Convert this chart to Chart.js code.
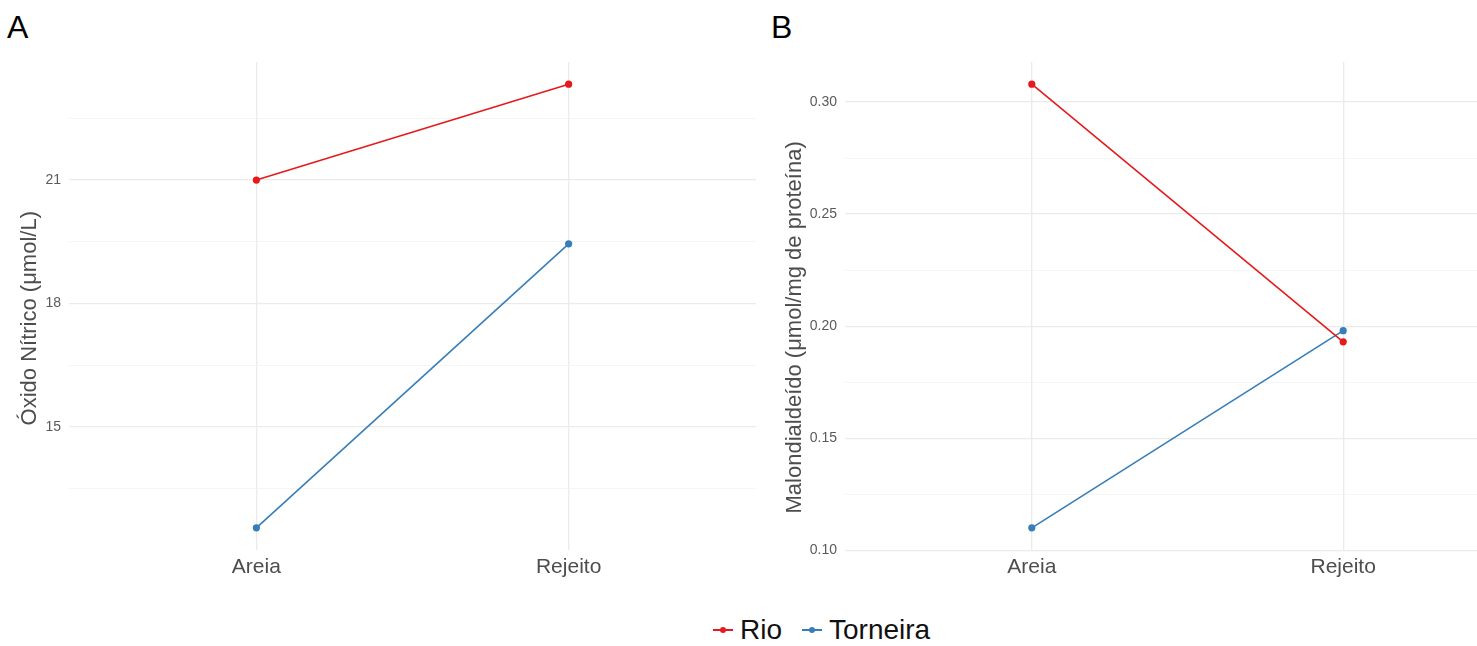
<!DOCTYPE html>
<html><head><meta charset="utf-8">
<script src="https://cdn.jsdelivr.net/npm/chart.js@4/dist/chart.umd.min.js"></script>
<style>
html,body{margin:0;padding:0;background:#fff;overflow:hidden;}
#wrap{position:relative;width:1477px;height:646px;overflow:hidden;font-family:"Liberation Sans",Arial,sans-serif;background:#fff;}
.panel{position:absolute;font-size:32px;line-height:32px;color:#000;}
#boxA{position:absolute;left:0;top:0;width:760px;height:600px;}
#boxB{position:absolute;left:760px;top:0;width:774px;height:600px;}
#legend{position:absolute;left:713px;top:616px;height:28px;display:flex;align-items:center;font-size:28px;line-height:28px;color:#111;white-space:nowrap;}
.item{display:flex;align-items:center;margin-right:20px;}
.key{position:relative;width:20px;height:28px;margin-right:7px;}
.key .ln{position:absolute;left:0;right:0;top:13px;height:2px;}
.key .dt{position:absolute;left:7px;top:11px;width:6px;height:6px;border-radius:50%;}
</style>
</head>
<body>
<div id="wrap">
  <div class="panel" style="left:7px;top:11px;">A</div>
  <div class="panel" style="left:771px;top:11px;">B</div>
  <div id="boxA"><canvas id="cA"></canvas></div>
  <div id="boxB"><canvas id="cB"></canvas></div>
  <div id="legend"></div>
</div>
<script>
// ---- data ----
const categories = ['Areia', 'Rejeito'];
const seriesNames = ['Rio', 'Torneira'];
const seriesColors = ['#E41A1C', '#377EB8'];

const rioA = [21.0, 23.33];
const torneiraA = [12.55, 19.45];
const rioB = [0.308, 0.193];
const torneiraB = [0.110, 0.198];

const yTicksA = [13.5, 15, 16.5, 18, 19.5, 21, 22.5];
const yLabelsA = ['', '15', '', '18', '', '21', ''];
const yTicksB = [0.10, 0.125, 0.15, 0.175, 0.20, 0.225, 0.25, 0.275, 0.30];
const yLabelsB = ['0.10', '', '0.15', '', '0.20', '', '0.25', '', '0.30'];

const titleA = 'Óxido Nítrico (μmol/L)';
const titleB = 'Malondialdeído (μmol/mg de proteína)';

// ---- helpers ----
const FONT = '"Liberation Sans", Arial, sans-serif';
function expandRange(arrs) {
  const all = [].concat(...arrs);
  const mn = Math.min(...all), mx = Math.max(...all), e = (mx - mn) * 0.05;
  return [mn - e, mx + e];
}
function toPts(vals) { return vals.map((v, i) => ({x: i, y: v})); }

function makeChart(id, rio, torn, ticks, labels, title, axisW, titlePad, titleShift) {
  const [ymin, ymax] = expandRange([rio, torn]);
  const ds = [rio, torn].map((vals, k) => ({
    label: seriesNames[k],
    data: toPts(vals),
    borderColor: seriesColors[k],
    backgroundColor: seriesColors[k],
    pointBackgroundColor: seriesColors[k],
    pointBorderWidth: 0,
    pointRadius: 3.6,
    borderWidth: 1.6,
    tension: 0
  }));
  return new Chart(document.getElementById(id), {
    type: 'line',
    data: {datasets: ds},
    options: {
      responsive: true,
      maintainAspectRatio: false,
      animation: false,
      events: [],
      layout: {padding: {top: 62, right: 2, left: 0, bottom: 0}},
      plugins: {legend: {display: false}, tooltip: {enabled: false}},
      scales: {
        x: {
          type: 'linear', min: -0.6, max: 1.6,
          afterBuildTicks: s => { s.ticks = categories.map((c, i) => ({value: i})); },
          afterFit: s => { s.height = 50; },
          border: {display: false},
          grid: {color: '#EBEBEB', lineWidth: 1.3, drawTicks: false},
          ticks: {
            callback: v => categories[v],
            font: {family: FONT, size: 21}, color: '#4D4D4D', padding: 5,
            maxRotation: 0, autoSkip: false
          }
        },
        y: {
          type: 'linear', min: ymin, max: ymax,
          afterBuildTicks: s => { s.ticks = ticks.map(v => ({value: v})); },
          afterFit: s => { s.width = axisW; },
          border: {display: false},
          grid: {
            drawTicks: false,
            color: c => (labels[c.index] ? '#EBEBEB' : '#F2F2F2'),
            lineWidth: c => (labels[c.index] ? 1.3 : 0.8)
          },
          ticks: {
            callback: (v, i) => labels[i],
            font: {family: FONT, size: 14}, color: '#5A5A5A', padding: 8,
            autoSkip: false
          },
          title: {
            display: true, text: title + '\u00A0'.repeat(titleShift),
            font: {family: FONT, size: 22}, color: '#4D4D4D',
            padding: {top: titlePad, bottom: 0}
          }
        }
      }
    }
  });
}

makeChart('cA', rioA, torneiraA, yTicksA, yLabelsA, titleA, 69, 17, 4);
makeChart('cB', rioB, torneiraB, yTicksB, yLabelsB, titleB, 85, 22, 7);

// legend
const lg = document.getElementById('legend');
seriesNames.forEach((n, k) => {
  const it = document.createElement('div'); it.className = 'item';
  const key = document.createElement('div'); key.className = 'key';
  const ln = document.createElement('div'); ln.className = 'ln'; ln.style.background = seriesColors[k];
  const dt = document.createElement('div'); dt.className = 'dt'; dt.style.background = seriesColors[k];
  key.appendChild(ln); key.appendChild(dt);
  const tx = document.createElement('span'); tx.textContent = n;
  it.appendChild(key); it.appendChild(tx);
  lg.appendChild(it);
});
</script>
</body></html>
